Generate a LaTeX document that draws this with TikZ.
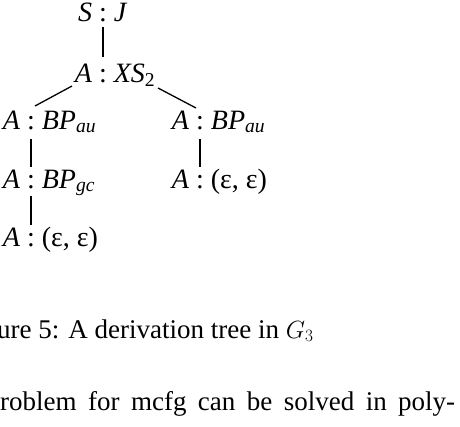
\documentclass[tikz,border=0pt]{standalone}
\usepackage{fontspec}
\setmainfont{Liberation Serif}
\usetikzlibrary{calc}
\newcommand\treelab[2]{\makebox[0pt][r]{#1\ }:\makebox[0pt][l]{\ #2}}
\begin{document}
\begin{tikzpicture}[x=1pt,y=-1pt,
  tree/.style={font=\fontsize{28}{32}\selectfont, inner sep=0pt, anchor=base},
  edge/.style={line width=1.3pt},
  body/.style={font=\fontsize{27}{32}\selectfont, inner sep=0pt, anchor=base west}]
\useasboundingbox (0,0) rectangle (460,426);
\clip (0,0) rectangle (460,426);
\node[tree] (r)  at (103,21)  {\treelab{\textit{S}}{\textit{J}}};
\node[tree] (x)  at (103,82)  {\treelab{\textit{A}}{\textit{XS}\textsubscript{2}}};
\node[tree] (l1) at (31,129)  {\treelab{\textit{A}}{\textit{BP}\textsubscript{\textit{au}}}};
\node[tree] (l2) at (31,188)  {\treelab{\textit{A}}{\textit{BP}\textsubscript{\textit{gc}}}};
\node[tree] (l3) at (31,246)  {\treelab{\textit{A}}{(ε, ε)}};
\node[tree] (r1) at (200,129) {\treelab{\textit{A}}{\textit{BP}\textsubscript{\textit{au}}}};
\node[tree] (r2) at (200,188) {\treelab{\textit{A}}{(ε, ε)}};
\draw[edge] ($(r.base)+(0,6)$) -- ($(x.base)+(0,-25)$);
\draw[edge] ($(x.base)+(-31,4)$) -- ($(l1.base)+(4,-23)$);
\draw[edge] ($(x.base)+(55,6)$) -- ($(r1.base)+(-4,-21)$);
\draw[edge] ($(l1.base)+(0,10)$) -- ($(l2.base)+(0,-21)$);
\draw[edge] ($(l2.base)+(0,8)$) -- ($(l3.base)+(0,-21)$);
\draw[edge] ($(r1.base)+(0,10)$) -- ($(r2.base)+(0,-21)$);
\node[body] (cap) at (-39,338) {Figure 5: A derivation tree in $G_3$};
\node[body] (txt) at (-13.5,410) {\makebox[468.5pt][s]{problem for mcfg can be solved in poly-}};
\end{tikzpicture}
\end{document}
